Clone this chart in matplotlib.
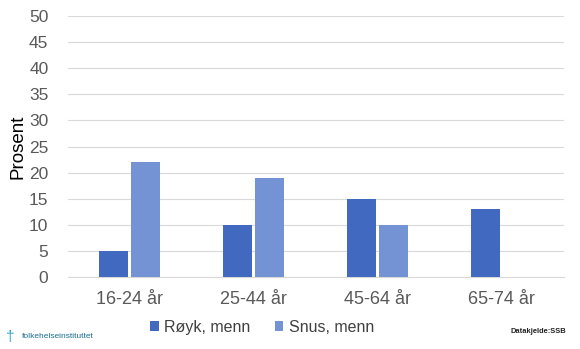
import matplotlib.pyplot as plt
import numpy as np

plt.rcParams['font.family'] = ['Liberation Sans', 'DejaVu Sans']

categories = ['16-24 år', '25-44 år', '45-64 år', '65-74 år']
royk = [5, 10, 15, 13]
snus = [22, 19, 10, 0]
yticks = list(range(0, 55, 5))

fig = plt.figure(figsize=(5.8, 3.49), dpi=100)
ax = fig.add_axes([0.117, 0.206, 0.855, 0.748])

x = np.arange(len(categories))
w = 0.235
ax.bar(x - w / 2 - 0.012, royk, w, color='#4169C0', label='Røyk, menn', zorder=3)
ax.bar(x + w / 2 + 0.012, snus, w, color='#7393D5', label='Snus, menn', zorder=3)

ax.set_xlim(-0.5, 3.5)
ax.set_ylim(0, 50)
ax.set_yticks(yticks)
ax.set_xticks(x)
ax.set_xticklabels(categories)
ax.tick_params(axis='x', length=0, labelsize=13, colors='#595959', pad=10)
ax.tick_params(axis='y', length=0, labelsize=12.5, colors='#595959', pad=14)
ax.grid(axis='y', color='#D9D9D9', lw=0.8, zorder=0)
for s in ['top', 'right', 'left']:
    ax.spines[s].set_visible(False)
ax.spines['bottom'].set_color('#D9D9D9')
ax.set_ylabel('Prosent', fontsize=13.5, color='black', labelpad=2)

fig.legend(loc='center', bbox_to_anchor=(0.452, 0.062), ncol=2, frameon=False,
           fontsize=11.5, handlelength=0.55, handleheight=0.55, handletextpad=0.35,
           columnspacing=1.5, labelcolor='#404040')

fig.text(0.01, 0.035, '\u2020', fontsize=11, color='#2AA7C9', va='center')
fig.text(0.038, 0.035, 'folkehelseinstituttet', fontsize=6, color='#1B6F8F', va='center')
fig.text(0.976, 0.049, 'Datakjelde:SSB', fontsize=5.4, color='#222222', ha='right',
         va='center', fontweight='bold')

fig.savefig('out.png', dpi=100)
